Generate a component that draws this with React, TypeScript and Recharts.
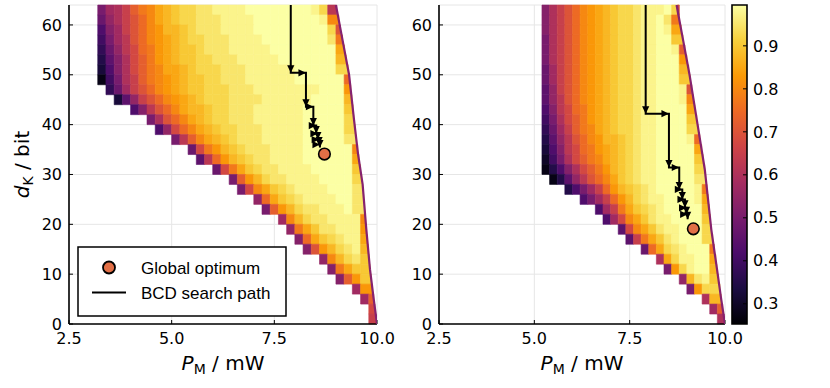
import React from "react";
import { ComposedChart, Scatter, XAxis, YAxis, CartesianGrid, ReferenceArea } from "recharts";

// axis ticks
const pmTicks = [2.5, 5, 7.5, 10];
const dTicks = [0, 10, 20, 30, 40, 50, 60];
const cbarTicks = [0.3, 0.4, 0.5, 0.6, 0.7, 0.8, 0.9];
const CBAR_MIN = 0.253;
const CBAR_MAX = 0.995;

// heatmap grid: column edges in mW, row edges in bit (top row first)
const pmEdgesLeft = [3.2, 3.4, 3.6, 3.8, 4.0, 4.2, 4.4, 4.6, 4.8, 5.0, 5.2, 5.4, 5.6, 5.8, 6.0, 6.2, 6.4, 6.6, 6.8, 7.0, 7.2, 7.4, 7.6, 7.8, 8.0, 8.2, 8.4, 8.6, 8.8, 9.0, 9.2, 9.4, 9.6, 9.8, 10.0];
const pmEdgesRight = [5.2, 5.4, 5.6, 5.8, 6.0, 6.2, 6.4, 6.6, 6.8, 7.0, 7.2, 7.4, 7.6, 7.8, 8.0, 8.2, 8.4, 8.6, 8.8, 9.0, 9.2, 9.4, 9.6, 9.8, 10.0];
const dEdges = [64, 62, 60, 58, 56, 54, 52, 50, 48, 46, 44, 42, 40, 38, 36, 34, 32, 30, 28, 26, 24, 22, 20, 18, 16, 14, 12, 10, 8, 6, 4, 2, 0];

// efficiency per cell, one char per column: "0" = 0.25 ... "u" = 1.00 (steps of 0.025)
const LEVELS = "0123456789abcdefghijklmnopqrstu";

// left panel: first feasible column of each row, feasible right edge (mW), row values
const startLeft = [0, 0, 0, 0, 0, 0, 0, 0, 1, 2, 4, 6, 7, 9, 11, 12, 14, 16, 17, 19, 20, 22, 23, 24, 25, 27, 28, 29, 31, 32, 33, 33];
const rightEdgeLeft = [9.02, 9.07, 9.11, 9.16, 9.21, 9.25, 9.3, 9.33, 9.36, 9.39, 9.42, 9.44, 9.47, 9.5, 9.53, 9.56, 9.6, 9.63, 9.66, 9.68, 9.7, 9.72, 9.74, 9.76, 9.79, 9.81, 9.83, 9.86, 9.89, 9.92, 9.95, 9.98];
const effLeft = [
  "adegjlmopqrrssttttuuuuuuuutrf",
  "9cegikmopqrrsssttttuuuuuuuutm",
  "7bdgikmnppqrsssttttuuuuuuuuuri",
  "6adfikmnopqrrsssttttuuuuuuuusl",
  "59cfhklnopqqrssstttttuuuuuuuuo",
  "48behjlnopqqrrssstttttuuuuuuup",
  "37behjlmoopqrrrsssttttttuuuuur",
  "16aegjlmnopqqrrsssttttttuuuuuuk",
  "59dgikmnopqqrrrsssttttttttuuun",
  "38cgikmnopqrrrssssttttttuuuup",
  "7bfikmoppqrrsssttttttuuuuuq",
  "aeikmopqrrsssttttttuuuuur",
  "7chkmopqrrssstttttuuuuur",
  "afjmopqrssstttttuuuuus",
  "9hlnpqrsssttttuuuuuum",
  "8fknpqrssttttuuuuuuo",
  "9hloqrssttttuuuuuq",
  "ajnprssttttuuuur",
  "ahmoqrsttttuuus",
  "ckoqrsttttuus",
  "ajnprsstttus",
  "dmprssttttm",
  "cloqsstttn",
  "bkoqrstto",
  "binprstp",
  "cmprsq",
  "bloqq",
  "bjnq",
  "dn",
  "dj",
  "h",
  "g",
];

// right panel
const startRight = [0, 0, 0, 0, 0, 0, 0, 0, 0, 0, 0, 0, 0, 0, 0, 0, 0, 1, 3, 5, 7, 8, 10, 11, 13, 15, 16, 18, 19, 21, 22, 23];
const rightEdgeRight = [8.75, 8.8, 8.85, 8.9, 8.95, 9.0, 9.05, 9.09, 9.13, 9.17, 9.21, 9.26, 9.3, 9.34, 9.39, 9.43, 9.47, 9.5, 9.53, 9.56, 9.59, 9.62, 9.64, 9.68, 9.72, 9.76, 9.79, 9.83, 9.87, 9.9, 9.94, 9.98];
const effRight = [
  "begikmnopqrrsttturg",
  "begikmnopqrrsttusl",
  "begikmnopqrrsttuto",
  "aegikmnopqrrsttuuq",
  "aegikmnopqrrsttuutj",
  "aegikmnopqrrsttuuun",
  "9dgikmnopqrrsttuuup",
  "9dgikmnopqrrsttuuuq",
  "8cgikmnopqrrsttuuuti",
  "8cfikmnopqrrsttuuutm",
  "7bfhklnopqrrsttuuuuo",
  "6aehjlnopqrrsttuuuuq",
  "59dgjlmopqrrsttuuuur",
  "48cfikmnppqrsttuuuutk",
  "37bfhklnopqrsttuuuuuo",
  "26aehjlmopqrsttuuuuuq",
  "147behjlnpqrsttuuuuur",
  "148cfikmoqrsttuuuuus",
  "47adgknpqrstuuuuutl",
  "7adgknprsttuuuuto",
  "7dgloqrstuuuuup",
  "7dhmoqsttuuuuq",
  "8hmoqsttuuur",
  "8gloqstuuur",
  "9korstuuul",
  "eorttuuo",
  "anrtuup",
  "cpstq",
  "anrr",
  "ep",
  "dj",
  "e",
];

// outer (high power) edge of the feasible region
const edgeLeftP = [9.0, 9.16, 9.32, 9.44, 9.54, 9.65, 9.74, 9.83, 9.92, 10.0];
const edgeLeftD = [64, 57, 50, 41, 34, 28, 19, 10.9, 5, 0];
const edgeRightP = [8.73, 8.9, 9.07, 9.26, 9.47, 9.64, 9.79, 9.9, 10.0];
const edgeRightD = [64, 57, 50, 41, 31, 19, 11, 5, 0];

// BCD search paths (P_M in mW, d_K in bit)
const pathLeftP = [7.9, 7.9, 8.27, 8.27, 8.45, 8.45, 8.52, 8.52, 8.56, 8.56, 8.59, 8.59, 8.61, 8.61];
const pathLeftD = [64, 50.4, 50.4, 43.6, 43.6, 39.8, 39.8, 38.2, 38.2, 37.0, 37.0, 36.0, 36.0, 35.4];
const pathRightP = [7.92, 7.92, 8.53, 8.53, 8.8, 8.8, 8.88, 8.88, 8.95, 8.95, 8.99, 8.99, 9.02, 9.02];
const pathRightD = [64, 42.2, 42.2, 31.4, 31.4, 27.0, 27.0, 25.0, 25.0, 23.3, 23.3, 22.0, 22.0, 21.0];

// global optima
const optLeft = [8.72, 34.1];
const optRight = [9.17, 19.1];

const INFERNO = ["#000004", "#1b0c42", "#4b0c6b", "#781c6d", "#a52c60", "#cf4446", "#ed6925", "#fb9a06", "#f7d03c", "#fcffa4"];
const FONT = "'DejaVu Sans', sans-serif";
const OPT_COLOR = "#e26f46";
const EDGE_COLOR = "#86226e";

function hexRgb(h: string) {
  return [parseInt(h.slice(1, 3), 16), parseInt(h.slice(3, 5), 16), parseInt(h.slice(5, 7), 16)];
}

function inferno(t: number) {
  const u = Math.max(0, Math.min(1, t)) * (INFERNO.length - 1);
  const i = Math.min(Math.floor(u), INFERNO.length - 2);
  const f = u - i;
  const a = hexRgb(INFERNO[i]);
  const b = hexRgb(INFERNO[i + 1]);
  const c = a.map((v, k) => Math.round(v + (b[k] - v) * f));
  return `rgb(${c[0]},${c[1]},${c[2]})`;
}

function buildCells(pmEdges: number[], starts: number[], rightEdge: number[], rows: string[]) {
  const cells: any[] = [];
  rows.forEach((row, j) => {
    for (let k = 0; k < row.length; k++) {
      const level = LEVELS.indexOf(row[k]);
      if (level < 0) continue;
      const col = starts[j] + k;
      const v = 0.25 + level * 0.025;
      cells.push({
        x1: pmEdges[col],
        x2: k === row.length - 1 ? rightEdge[j] : pmEdges[col + 1],
        y1: dEdges[j + 1],
        y2: dEdges[j],
        fill: inferno((v - CBAR_MIN) / (CBAR_MAX - CBAR_MIN)),
      });
    }
  });
  return cells;
}

function buildPath(ps: number[], ds: number[]) {
  return ps.map((p, i) => ({
    x: p,
    y: ds[i],
    dir: i === 0 ? null : ds[i] < ds[i - 1] ? "down" : "right",
  }));
}

const Arrow = (props: any) => {
  const { cx, cy, payload } = props;
  if (!payload || !payload.dir) return <g />;
  const L = 7.5;
  const W = 3.6;
  const pts =
    payload.dir === "down"
      ? `${cx},${cy} ${cx - W},${cy - L} ${cx + W},${cy - L}`
      : `${cx},${cy} ${cx - L},${cy - W} ${cx - L},${cy + W}`;
  return <polygon points={pts} fill="#000" />;
};

const Nothing = () => <g />;

const Optimum = (props: any) => (
  <circle cx={props.cx} cy={props.cy} r={5.8} fill={OPT_COLOR} stroke="#000" strokeWidth={1.6} />
);

const xTitle = (props: any) => {
  const vb = props.viewBox || {};
  return (
    <text x={vb.x + vb.width / 2} y={vb.y + 46} textAnchor="middle" fontFamily={FONT} fontSize={20} fill="#000">
      <tspan fontStyle="italic">P</tspan>
      <tspan fontSize={14} dy={4}>M</tspan>
      <tspan dy={-4}> / mW</tspan>
    </text>
  );
};

const yTitle = (props: any) => {
  const vb = props.viewBox || {};
  const x = vb.x + 29;
  const y = vb.y + vb.height / 2;
  return (
    <text x={x} y={y} transform={`rotate(-90, ${x}, ${y})`} textAnchor="middle" fontFamily={FONT} fontSize={20} fill="#000">
      <tspan fontStyle="italic">d</tspan>
      <tspan fontSize={14} dy={4}>K</tspan>
      <tspan dy={-4}> / bit</tspan>
    </text>
  );
};

const tickStyle = { fill: "#000", fontSize: 16, fontFamily: FONT };

function Panel(props: any) {
  const { left, width, marginRight, yAxisWidth, pmEdges, starts, rightEdge, rows, edgeP, edgeD, pathP, pathD, opt, showYTitle } = props;
  const cells = buildCells(pmEdges, starts, rightEdge, rows);
  const path = buildPath(pathP, pathD);
  const edge = edgeP.map((p: number, i: number) => ({ x: p, y: edgeD[i] }));
  return (
    <div style={{ position: "absolute", left, top: 0 }}>
      <ComposedChart width={width} height={388} margin={{ top: 5, right: marginRight, bottom: 0, left: 0 }}>
        <CartesianGrid stroke="#e6e6e6" strokeWidth={1} />
        <XAxis
          type="number"
          dataKey="x"
          domain={[2.5, 10]}
          ticks={pmTicks}
          allowDataOverflow
          tickFormatter={(v: number) => v.toFixed(1)}
          height={64}
          tick={tickStyle}
          tickSize={-4}
          tickMargin={13}
          axisLine={{ stroke: "#000", strokeWidth: 1.6 }}
          tickLine={{ stroke: "#000" }}
          label={{ content: xTitle }}
        />
        <YAxis
          type="number"
          dataKey="y"
          domain={[0, 64]}
          ticks={dTicks}
          allowDataOverflow
          width={yAxisWidth}
          tick={tickStyle}
          tickSize={-4}
          tickMargin={11}
          axisLine={{ stroke: "#000", strokeWidth: 1.6 }}
          tickLine={{ stroke: "#000" }}
          label={showYTitle ? { content: yTitle } : undefined}
        />
        {cells.map((c, i) => (
          <ReferenceArea
            key={i}
            x1={c.x1}
            x2={c.x2}
            y1={c.y1}
            y2={c.y2}
            fill={c.fill}
            fillOpacity={1}
            stroke={c.fill}
            strokeWidth={0.6}
          />
        ))}
        <Scatter data={edge} line={{ stroke: EDGE_COLOR, strokeWidth: 2.2 }} shape={<Nothing />} isAnimationActive={false} />
        <Scatter data={path} line={{ stroke: "#000", strokeWidth: 2 }} shape={<Arrow />} isAnimationActive={false} />
        <Scatter data={[{ x: opt[0], y: opt[1] }]} shape={<Optimum />} isAnimationActive={false} />
      </ComposedChart>
    </div>
  );
}

function ColorBar() {
  const anchor = cbarTicks.map((v) => ({ x: 0.5, y: v }));
  return (
    <div style={{ position: "absolute", left: 720, top: 0 }}>
      <ComposedChart width={87} height={388} data={anchor} margin={{ top: 5, right: 0, bottom: 64, left: 12 }}>
        <defs>
          <linearGradient id="infernoBar" x1="0" y1="1" x2="0" y2="0">
            {INFERNO.map((c, i) => (
              <stop key={i} offset={`${(i / (INFERNO.length - 1)) * 100}%`} stopColor={c} />
            ))}
          </linearGradient>
        </defs>
        <XAxis type="number" dataKey="x" domain={[0, 1]} hide />
        <YAxis
          type="number"
          dataKey="y"
          orientation="right"
          domain={[CBAR_MIN, CBAR_MAX]}
          ticks={cbarTicks}
          tickFormatter={(v: number) => v.toFixed(1)}
          width={60}
          tick={tickStyle}
          tickSize={-4}
          tickMargin={10}
          axisLine={false}
          tickLine={{ stroke: "#000" }}
        />
        <ReferenceArea
          x1={0}
          x2={1}
          y1={CBAR_MIN}
          y2={CBAR_MAX}
          fill="url(#infernoBar)"
          fillOpacity={1}
          stroke="#000"
          strokeWidth={1.6}
        />
        <Scatter data={anchor} shape={<Nothing />} isAnimationActive={false} />
      </ComposedChart>
    </div>
  );
}

function LegendBox() {
  const lf = "'Liberation Sans', Arial, sans-serif";
  return (
    <svg width={830} height={388} style={{ position: "absolute", left: 0, top: 0, pointerEvents: "none" }}>
      <rect x={78} y={247} width={208} height={69} fill="#fff" stroke="#000" strokeWidth={1.5} />
      <circle cx={109} cy={267.5} r={6} fill={OPT_COLOR} stroke="#000" strokeWidth={1.8} />
      <text x={141} y={273.5} fontSize={17} fontFamily={lf} fill="#000">Global optimum</text>
      <line x1={92} y1={292.5} x2={126} y2={292.5} stroke="#000" strokeWidth={2} />
      <text x={141} y={298.5} fontSize={17} fontFamily={lf} fill="#000">BCD search path</text>
    </svg>
  );
}

export default function App() {
  return (
    <div style={{ position: "fixed", left: 0, top: 0, width: 830, height: 388, background: "#fff", overflow: "hidden" }}>
      <Panel
        left={0}
        width={400}
        marginRight={23}
        yAxisWidth={69}
        pmEdges={pmEdgesLeft}
        starts={startLeft}
        rightEdge={rightEdgeLeft}
        rows={effLeft}
        edgeP={edgeLeftP}
        edgeD={edgeLeftD}
        pathP={pathLeftP}
        pathD={pathLeftD}
        opt={optLeft}
        showYTitle
      />
      <Panel
        left={400}
        width={350}
        marginRight={25}
        yAxisWidth={39}
        pmEdges={pmEdgesRight}
        starts={startRight}
        rightEdge={rightEdgeRight}
        rows={effRight}
        edgeP={edgeRightP}
        edgeD={edgeRightD}
        pathP={pathRightP}
        pathD={pathRightD}
        opt={optRight}
        showYTitle={false}
      />
      <ColorBar />
      <LegendBox />
    </div>
  );
}
